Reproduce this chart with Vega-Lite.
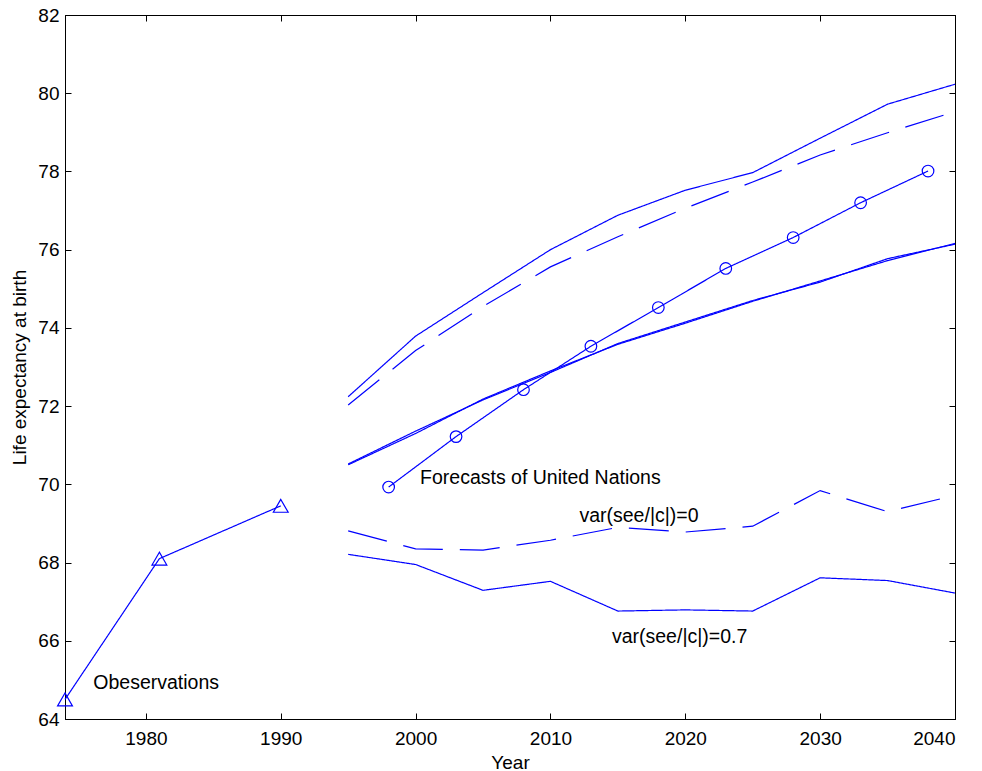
{
  "$schema": "https://vega.github.io/schema/vega-lite/v6.json",
  "width": 890,
  "height": 704,
  "autosize": {"type": "none"},
  "padding": {"left": 65, "top": 15, "right": 27, "bottom": 52},
  "background": "white",
  "config": {
    "font": "Liberation Sans",
    "view": {"stroke": "black", "strokeWidth": 1},
    "axis": {
      "grid": false,
      "domainColor": "black",
      "tickColor": "black",
      "labelColor": "black",
      "titleColor": "black",
      "labelFont": "Liberation Sans",
      "titleFont": "Liberation Sans",
      "labelFontSize": 19,
      "titleFontSize": 19,
      "titleFontWeight": "normal",
      "tickSize": -6,
      "labelPadding": 12
    }
  },
  "datasets": {
    "series": [
      {"series": "Observations", "year": 1974, "value": 64.5},
      {"series": "Observations", "year": 1981, "value": 68.1},
      {"series": "Observations", "year": 1990, "value": 69.45},
      {"series": "UN forecast", "year": 1998, "value": 69.93},
      {"series": "UN forecast", "year": 2003, "value": 71.22},
      {"series": "UN forecast", "year": 2008, "value": 72.42},
      {"series": "UN forecast", "year": 2013, "value": 73.53},
      {"series": "UN forecast", "year": 2018, "value": 74.52},
      {"series": "UN forecast", "year": 2023, "value": 75.52},
      {"series": "UN forecast", "year": 2028, "value": 76.31},
      {"series": "UN forecast", "year": 2033, "value": 77.2},
      {"series": "UN forecast", "year": 2038, "value": 78.01},
      {"series": "Upper var=0.7", "year": 1995, "value": 72.24},
      {"series": "Upper var=0.7", "year": 2000, "value": 73.79},
      {"series": "Upper var=0.7", "year": 2005, "value": 74.9},
      {"series": "Upper var=0.7", "year": 2010, "value": 76.0},
      {"series": "Upper var=0.7", "year": 2015, "value": 76.88},
      {"series": "Upper var=0.7", "year": 2020, "value": 77.52},
      {"series": "Upper var=0.7", "year": 2025, "value": 77.97},
      {"series": "Upper var=0.7", "year": 2030, "value": 78.85},
      {"series": "Upper var=0.7", "year": 2035, "value": 79.72},
      {"series": "Upper var=0.7", "year": 2040, "value": 80.23},
      {"series": "Upper var=0", "year": 1995, "value": 72.03},
      {"series": "Upper var=0", "year": 2000, "value": 73.42},
      {"series": "Upper var=0", "year": 2005, "value": 74.55},
      {"series": "Upper var=0", "year": 2010, "value": 75.56},
      {"series": "Upper var=0", "year": 2015, "value": 76.33},
      {"series": "Upper var=0", "year": 2020, "value": 77.06},
      {"series": "Upper var=0", "year": 2025, "value": 77.73},
      {"series": "Upper var=0", "year": 2030, "value": 78.42},
      {"series": "Upper var=0", "year": 2035, "value": 78.99},
      {"series": "Upper var=0", "year": 2040, "value": 79.53},
      {"series": "Mean var=0.7", "year": 1995, "value": 70.52},
      {"series": "Mean var=0.7", "year": 2000, "value": 71.36},
      {"series": "Mean var=0.7", "year": 2005, "value": 72.16},
      {"series": "Mean var=0.7", "year": 2010, "value": 72.86},
      {"series": "Mean var=0.7", "year": 2015, "value": 73.6},
      {"series": "Mean var=0.7", "year": 2020, "value": 74.15},
      {"series": "Mean var=0.7", "year": 2025, "value": 74.7},
      {"series": "Mean var=0.7", "year": 2030, "value": 75.17},
      {"series": "Mean var=0.7", "year": 2035, "value": 75.77},
      {"series": "Mean var=0.7", "year": 2040, "value": 76.14},
      {"series": "Mean var=0", "year": 1995, "value": 70.5},
      {"series": "Mean var=0", "year": 2000, "value": 71.3},
      {"series": "Mean var=0", "year": 2005, "value": 72.18},
      {"series": "Mean var=0", "year": 2010, "value": 72.9},
      {"series": "Mean var=0", "year": 2015, "value": 73.58},
      {"series": "Mean var=0", "year": 2020, "value": 74.12},
      {"series": "Mean var=0", "year": 2025, "value": 74.68},
      {"series": "Mean var=0", "year": 2030, "value": 75.2},
      {"series": "Mean var=0", "year": 2035, "value": 75.72},
      {"series": "Mean var=0", "year": 2040, "value": 76.16},
      {"series": "Lower var=0", "year": 1995, "value": 68.81},
      {"series": "Lower var=0", "year": 2000, "value": 68.35},
      {"series": "Lower var=0", "year": 2005, "value": 68.32},
      {"series": "Lower var=0", "year": 2010, "value": 68.57},
      {"series": "Lower var=0", "year": 2015, "value": 68.9},
      {"series": "Lower var=0", "year": 2020, "value": 68.78},
      {"series": "Lower var=0", "year": 2025, "value": 68.93},
      {"series": "Lower var=0", "year": 2030, "value": 69.84},
      {"series": "Lower var=0", "year": 2035, "value": 69.3},
      {"series": "Lower var=0", "year": 2040, "value": 69.72},
      {"series": "Lower var=0.7", "year": 1995, "value": 68.21},
      {"series": "Lower var=0.7", "year": 2000, "value": 67.95},
      {"series": "Lower var=0.7", "year": 2005, "value": 67.29},
      {"series": "Lower var=0.7", "year": 2010, "value": 67.52},
      {"series": "Lower var=0.7", "year": 2015, "value": 66.76},
      {"series": "Lower var=0.7", "year": 2020, "value": 66.79},
      {"series": "Lower var=0.7", "year": 2025, "value": 66.76},
      {"series": "Lower var=0.7", "year": 2030, "value": 67.61},
      {"series": "Lower var=0.7", "year": 2035, "value": 67.54},
      {"series": "Lower var=0.7", "year": 2040, "value": 67.22}
    ],
    "labels": [
      {"text": "Obeservations", "year": 1976.1, "value": 64.76},
      {"text": "Forecasts of United Nations", "year": 2000.33, "value": 70.01},
      {"text": "var(see/|c|)=0", "year": 2012.15, "value": 69.04},
      {"text": "var(see/|c|)=0.7", "year": 2014.56, "value": 65.94}
    ]
  },
  "resolve": {"axis": {"x": "independent", "y": "independent"}},
  "layer": [
    {
      "data": {"name": "series"},
      "mark": {"type": "line", "color": "#0000ff", "strokeWidth": 1.2},
      "encoding": {
        "x": {
          "field": "year", "type": "quantitative",
          "scale": {"domain": [1974, 2040], "nice": false, "zero": false},
          "axis": {"orient": "bottom", "values": [1980, 1990, 2000, 2010, 2020, 2030, 2040], "format": "d", "title": "Year", "titlePadding": 5, "labelPadding": 16}
        },
        "y": {
          "field": "value", "type": "quantitative",
          "scale": {"domain": [64, 82], "nice": false, "zero": false},
          "axis": {"orient": "left", "values": [64, 66, 68, 70, 72, 74, 76, 78, 80, 82], "title": "Life expectancy at birth", "titlePadding": 8}
        },
        "strokeDash": {
          "field": "series", "type": "nominal", "legend": null,
          "scale": {
            "domain": ["Observations", "UN forecast", "Upper var=0.7", "Upper var=0", "Mean var=0.7", "Mean var=0", "Lower var=0", "Lower var=0.7"],
            "range": [[1, 0], [1, 0], [1, 0], [40, 17], [1, 0], [1, 0], [40, 17], [1, 0]]
          }
        }
      }
    },
    {
      "data": {"name": "series"},
      "transform": [{"filter": {"field": "series", "oneOf": ["Observations", "UN forecast"]}}],
      "mark": {"type": "point", "filled": false, "color": "#0000ff", "strokeWidth": 1.2, "opacity": 1},
      "encoding": {
        "x": {"field": "year", "type": "quantitative", "scale": {"domain": [1974, 2040], "nice": false, "zero": false}, "axis": null},
        "y": {"field": "value", "type": "quantitative", "scale": {"domain": [64, 82], "nice": false, "zero": false}, "axis": null},
        "shape": {
          "field": "series", "type": "nominal", "legend": null,
          "scale": {"domain": ["Observations", "UN forecast"], "range": ["triangle-up", "circle"]}
        },
        "size": {
          "field": "series", "type": "nominal", "legend": null,
          "scale": {"domain": ["Observations", "UN forecast"], "range": [220, 135]}
        }
      }
    },
    {
      "data": {"name": "labels"},
      "mark": {"type": "text", "align": "left", "baseline": "alphabetic", "fontSize": 19.5, "color": "black", "font": "Liberation Sans"},
      "encoding": {
        "x": {"field": "year", "type": "quantitative", "scale": {"domain": [1974, 2040], "nice": false, "zero": false},
              "axis": {"orient": "top", "values": [1980, 1990, 2000, 2010, 2020, 2030, 2040], "labels": false, "title": null}},
        "y": {"field": "value", "type": "quantitative", "scale": {"domain": [64, 82], "nice": false, "zero": false},
              "axis": {"orient": "right", "values": [64, 66, 68, 70, 72, 74, 76, 78, 80, 82], "labels": false, "title": null}},
        "text": {"field": "text", "type": "nominal"}
      }
    }
  ]
}
